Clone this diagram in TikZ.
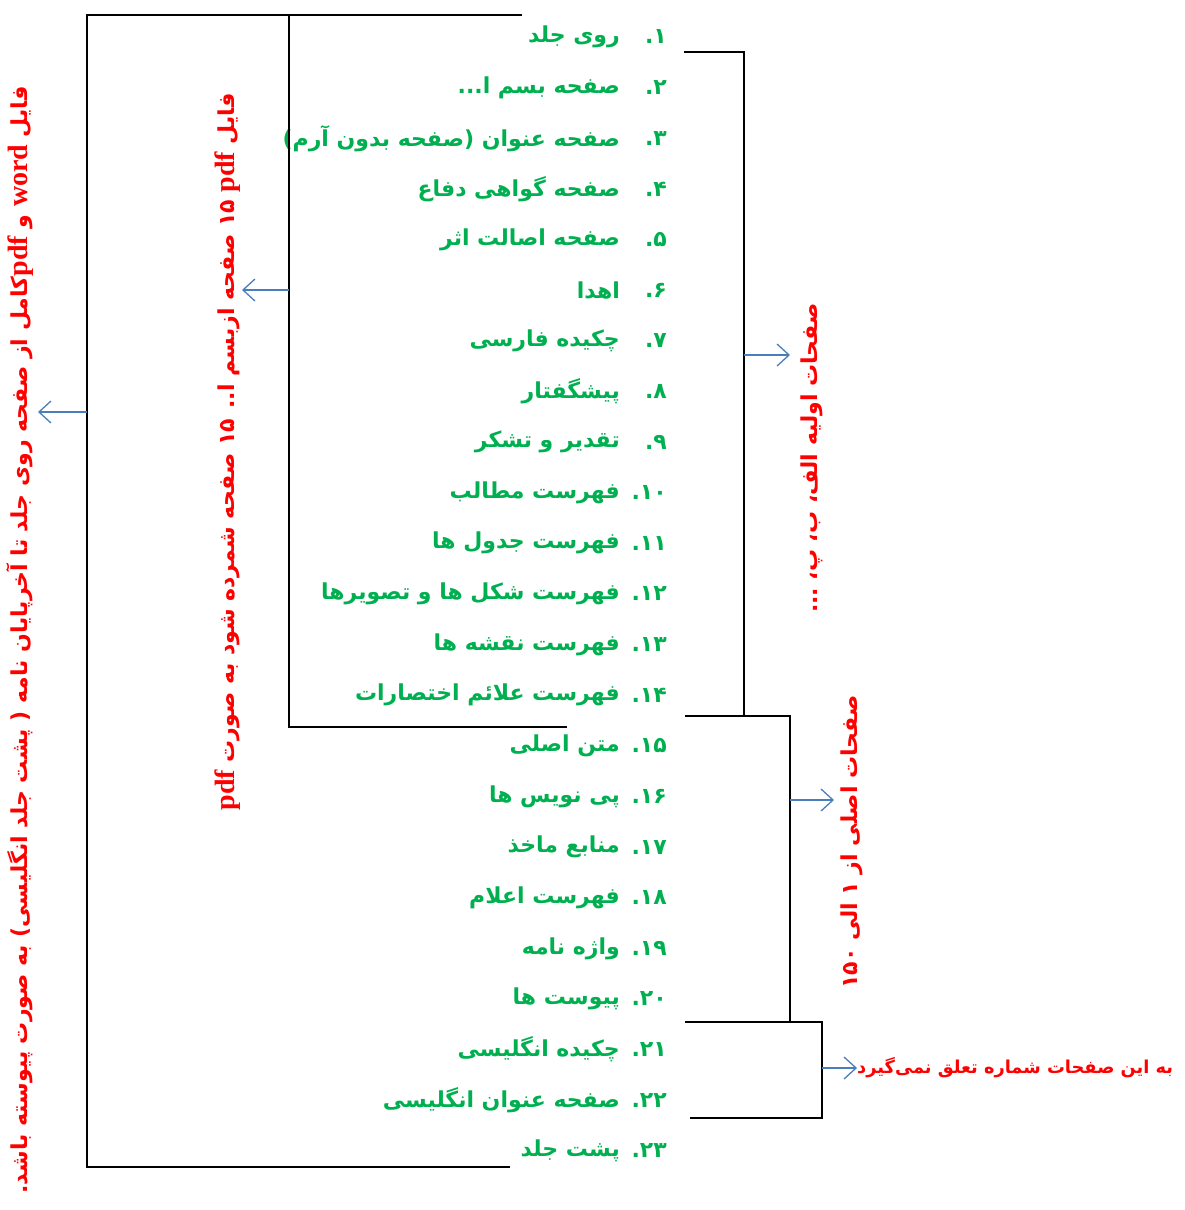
\documentclass[tikz,border=0pt]{standalone}
\usepackage{fontspec}
\usetikzlibrary{arrows.meta}
\TeXXeTstate=1
\newfontfamily\fa[Script=Arabic]{DejaVu Sans}
\newfontfamily\latb{Liberation Serif Bold}
\newcommand{\latword}[1]{\beginL{\latb\fontsize{28}{32}\selectfont #1}\endL}
\definecolor{itemgreen}{RGB}{0,176,80}
\definecolor{arrowblue}{RGB}{74,126,187}
\definecolor{lblred}{RGB}{255,0,0}
\begin{document}
\begin{tikzpicture}[x=1pt,y=-1pt,
  itemtxt/.style={anchor=east, inner sep=0pt, text=itemgreen, font=\fa\bfseries\fontsize{22}{26}\selectfont},
  lbl/.style={inner sep=0pt, text=lblred, font=\fa\bfseries\fontsize{22}{26}\selectfont},
  brk/.style={line width=1.6pt, black},
  arr/.style={arrowblue, line width=1.3pt, -{Straight Barb[length=12pt,width=22pt]}}]
\useasboundingbox (0,0) rectangle (1184,1210);

\foreach \n/\t [count=\i] in {{۱}/{روی جلد}, {۲}/{صفحه بسم ا...}, {۳}/{صفحه عنوان (صفحه بدون آرم)}, {۴}/{صفحه گواهی دفاع}, {۵}/{صفحه اصالت اثر}, {۶}/{اهدا}, {۷}/{چکیده فارسی}, {۸}/{پیشگفتار}, {۹}/{تقدیر و تشکر}, {۱۰}/{فهرست مطالب}, {۱۱}/{فهرست جدول ها}, {۱۲}/{فهرست شکل ها و تصویرها}, {۱۳}/{فهرست نقشه ها}, {۱۴}/{فهرست علائم اختصارات}, {۱۵}/{متن اصلی}, {۱۶}/{پی نویس ها}, {۱۷}/{منابع ماخذ}, {۱۸}/{فهرست اعلام}, {۱۹}/{واژه نامه}, {۲۰}/{پیوست ها}, {۲۱}/{چکیده انگلیسی}, {۲۲}/{صفحه عنوان انگلیسی}, {۲۳}/{پشت جلد}}{
  \pgfmathsetmacro{\yy}{37+(\i-1)*50.63}
  \node[itemtxt] (n\i) at (667,\yy) {\n.};
  \node[itemtxt] (t\i) at (620,\yy) {\beginR \t\endR};
}

% bracket corner coordinates
\coordinate (o1) at (522,15);
\coordinate (o2) at (87,15);
\coordinate (o3) at (87,1167);
\coordinate (o4) at (510,1167);
\coordinate (i1) at (289,15);
\coordinate (i2) at (289,727);
\coordinate (i3) at (567,727);
\coordinate (r1a) at (684,52);
\coordinate (r1b) at (744,52);
\coordinate (r1c) at (744,716);
\coordinate (r2a) at (685,716);
\coordinate (r2b) at (790,716);
\coordinate (r2c) at (790,1022);
\coordinate (r3a) at (685,1022);
\coordinate (r3b) at (822,1022);
\coordinate (r3c) at (822,1118);
\coordinate (r3d) at (690,1118);

\draw[brk] (o1) -- (o2) -- (o3) -- (o4);
\draw[brk] (i1) -- (i2) -- (i3);
\draw[brk] (r1a) -- (r1b) -- (r1c);
\draw[brk] (r2a) -- (r2b) -- (r2c);
\draw[brk] (r3a) -- (r3b) -- (r3c) -- (r3d);

% labels
\node[lbl, rotate=90] (L1) at (20,640) {\beginR فایل \latword{word} و \latword{pdf}کامل از صفحه روی جلد تا آخرپایان نامه ( پشت جلد انگلیسی) به صورت پیوسته باشد.\endR};
\node[lbl, rotate=90] (L2) at (228,452) {\beginR فایل \latword{pdf} ۱۵ صفحه ازبسم ا.. ۱۵ صفحه شمرده شود به صورت \latword{pdf}\endR};
\node[lbl, rotate=90] (L3) at (812,458) {\beginR صفحات اولیه الف، ب، پ، {...}\endR};
\node[lbl, rotate=90] (L4) at (852,842) {\beginR صفحات اصلی از ۱ الی ۱۵۰\endR};
\node[lbl, anchor=west, font=\fa\bfseries\fontsize{17.8}{22}\selectfont] (L5) at (857,1068) {\beginR به این صفحات شماره تعلق نمی‌گیرد\endR};

% arrows
\coordinate (a1s) at (87,412);   \coordinate (a1e) at (38,412);
\coordinate (a2s) at (289,290);  \coordinate (a2e) at (242,290);
\coordinate (a3s) at (744,355);  \coordinate (a3e) at (790,355);
\coordinate (a4s) at (790,800);  \coordinate (a4e) at (834,800);
\coordinate (a5s) at (822,1068);
\draw[arr] (a1s) -- (a1e);
\draw[arr] (a2s) -- (a2e);
\draw[arr] (a3s) -- (a3e);
\draw[arr] (a4s) -- (a4e);
\draw[arr] (a5s) -- (L5.west);
\end{tikzpicture}
\end{document}
